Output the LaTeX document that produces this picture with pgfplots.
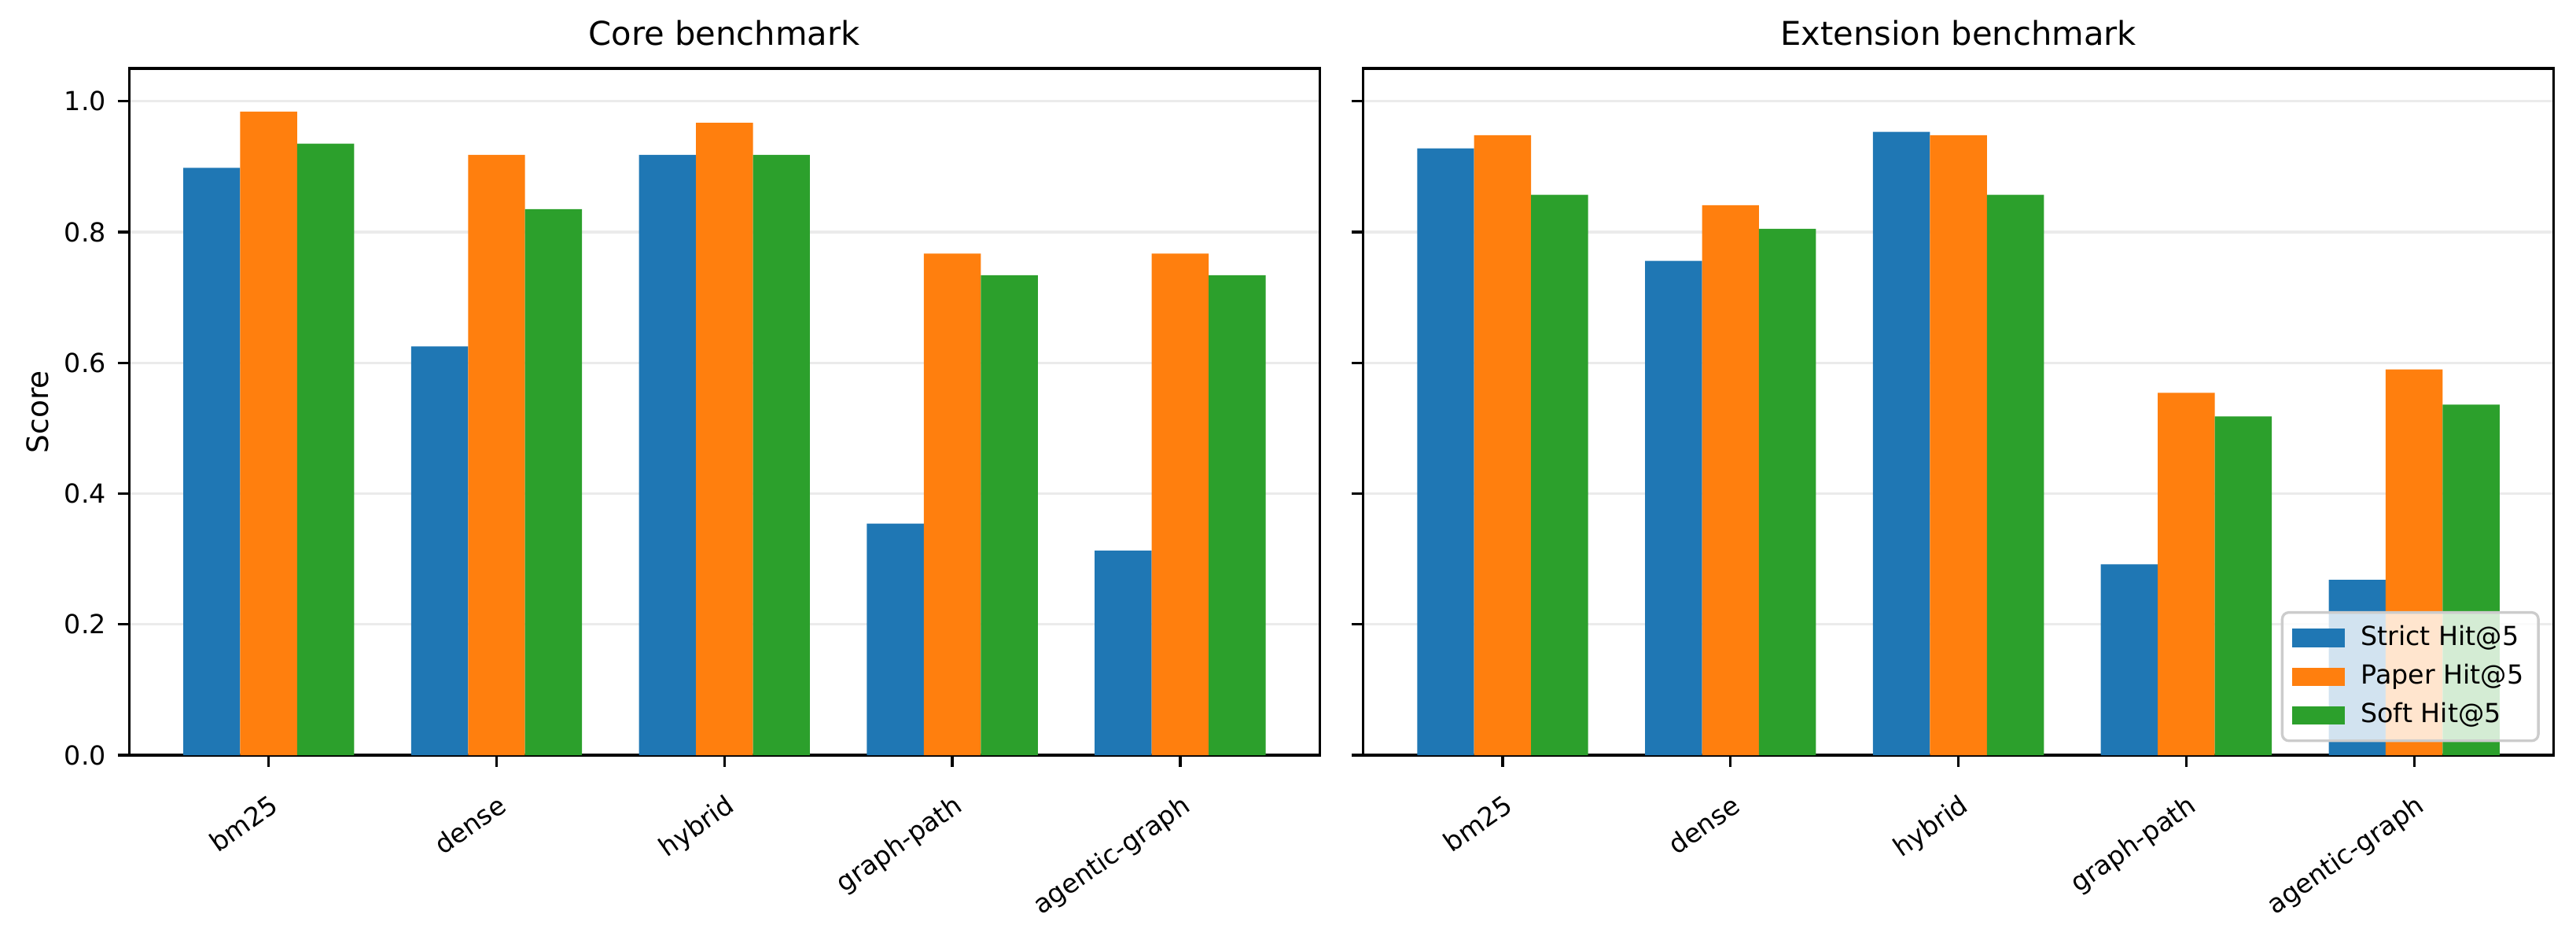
\documentclass[border=0pt]{standalone}
\usepackage{fontspec}
\setmainfont{DejaVu Sans}
\usepackage{pgfplots}
\pgfplotsset{compat=1.18}
\definecolor{c0}{HTML}{1F77B4}
\definecolor{c1}{HTML}{FF7F0E}
\definecolor{c2}{HTML}{2CA02C}
\definecolor{gridc}{HTML}{EBEBEB}
\pgfplotsset{
  myaxis/.style={
    scale only axis,
    width=363.4pt, height=209.5pt,
    xmin=-0.6125, xmax=4.6125,
    ymin=0, ymax=1.05,
    ybar, bar width=0.25,
    xtick={0,1,2,3,4},
    xticklabels={bm25,dense,hybrid,graph-path,agentic-graph},
    ytick={0,0.2,0.4,0.6,0.8,1.0},
    tick align=outside,
    tick pos=left,
    major tick length=3.5pt,
    every tick/.style={black, line width=0.8pt},
    axis line style={line width=0.8pt},
    ymajorgrids,
    grid style={gridc, line width=0.8pt},
    xticklabel style={rotate=35, anchor=north east, inner sep=0pt, yshift=-6.5pt, xshift=-4.5pt, font=\fontsize{8}{9.6}\selectfont},
    yticklabel style={font=\fontsize{8}{9.6}\selectfont, /pgf/number format/.cd, fixed, fixed zerofill, precision=1, assume math mode=true},
    title style={font=\fontsize{10}{12}\selectfont, at={(axis description cs:0.5,1)}, anchor=base, yshift=1pt},
    legend image code/.code={\fill[#1, fill opacity=1, draw=none, sharp corners] (0pt,-2.8pt) rectangle (16pt,2.8pt);},
  }
}
\begin{document}
\begin{tikzpicture}
\path[use as bounding box] (-39.4pt,-52.8pt) rectangle (746.8pt,230.4pt);
\begin{axis}[myaxis, at={(0pt,0pt)}, anchor=south west,
  title={Core benchmark},
  ylabel={Score},
  every axis y label/.style={at={(axis description cs:-0.077,0.5)}, rotate=90, anchor=center, font=\fontsize{9}{10.8}\selectfont},
]
\addplot[fill=c0, draw=none, bar shift=-0.25] coordinates {(0,0.898) (1,0.625) (2,0.918) (3,0.354) (4,0.313)};
\addplot[fill=c1, draw=none, bar shift=0] coordinates {(0,0.984) (1,0.918) (2,0.967) (3,0.767) (4,0.767)};
\addplot[fill=c2, draw=none, bar shift=0.25] coordinates {(0,0.935) (1,0.835) (2,0.918) (3,0.734) (4,0.734)};
\end{axis}
\begin{axis}[myaxis, at={(376.6pt,0pt)}, anchor=south west,
  title={Extension benchmark},
  yticklabels={},
  legend cell align=left,
  legend style={at={(axis description cs:1,0)}, anchor=south east, xshift=-4.3pt, yshift=4pt,
    draw=black!20, line width=0.8pt, rounded corners=2pt, fill=white, fill opacity=0.8, draw opacity=1, text opacity=1,
    font=\fontsize{8}{9.6}\selectfont, inner xsep=3pt, inner ysep=2.5pt, row sep=1.2pt,
    nodes={inner sep=1.5pt},
    /tikz/every odd column/.append style={column sep=3.5pt}},
]
\addplot[fill=c0, draw=none, bar shift=-0.25] coordinates {(0,0.928) (1,0.756) (2,0.953) (3,0.292) (4,0.268)};
\addplot[fill=c1, draw=none, bar shift=0] coordinates {(0,0.948) (1,0.841) (2,0.948) (3,0.554) (4,0.590)};
\addplot[fill=c2, draw=none, bar shift=0.25] coordinates {(0,0.857) (1,0.805) (2,0.857) (3,0.518) (4,0.536)};
\legend{Strict Hit@5, Paper Hit@5, Soft Hit@5}
\end{axis}
\end{tikzpicture}
\end{document}
